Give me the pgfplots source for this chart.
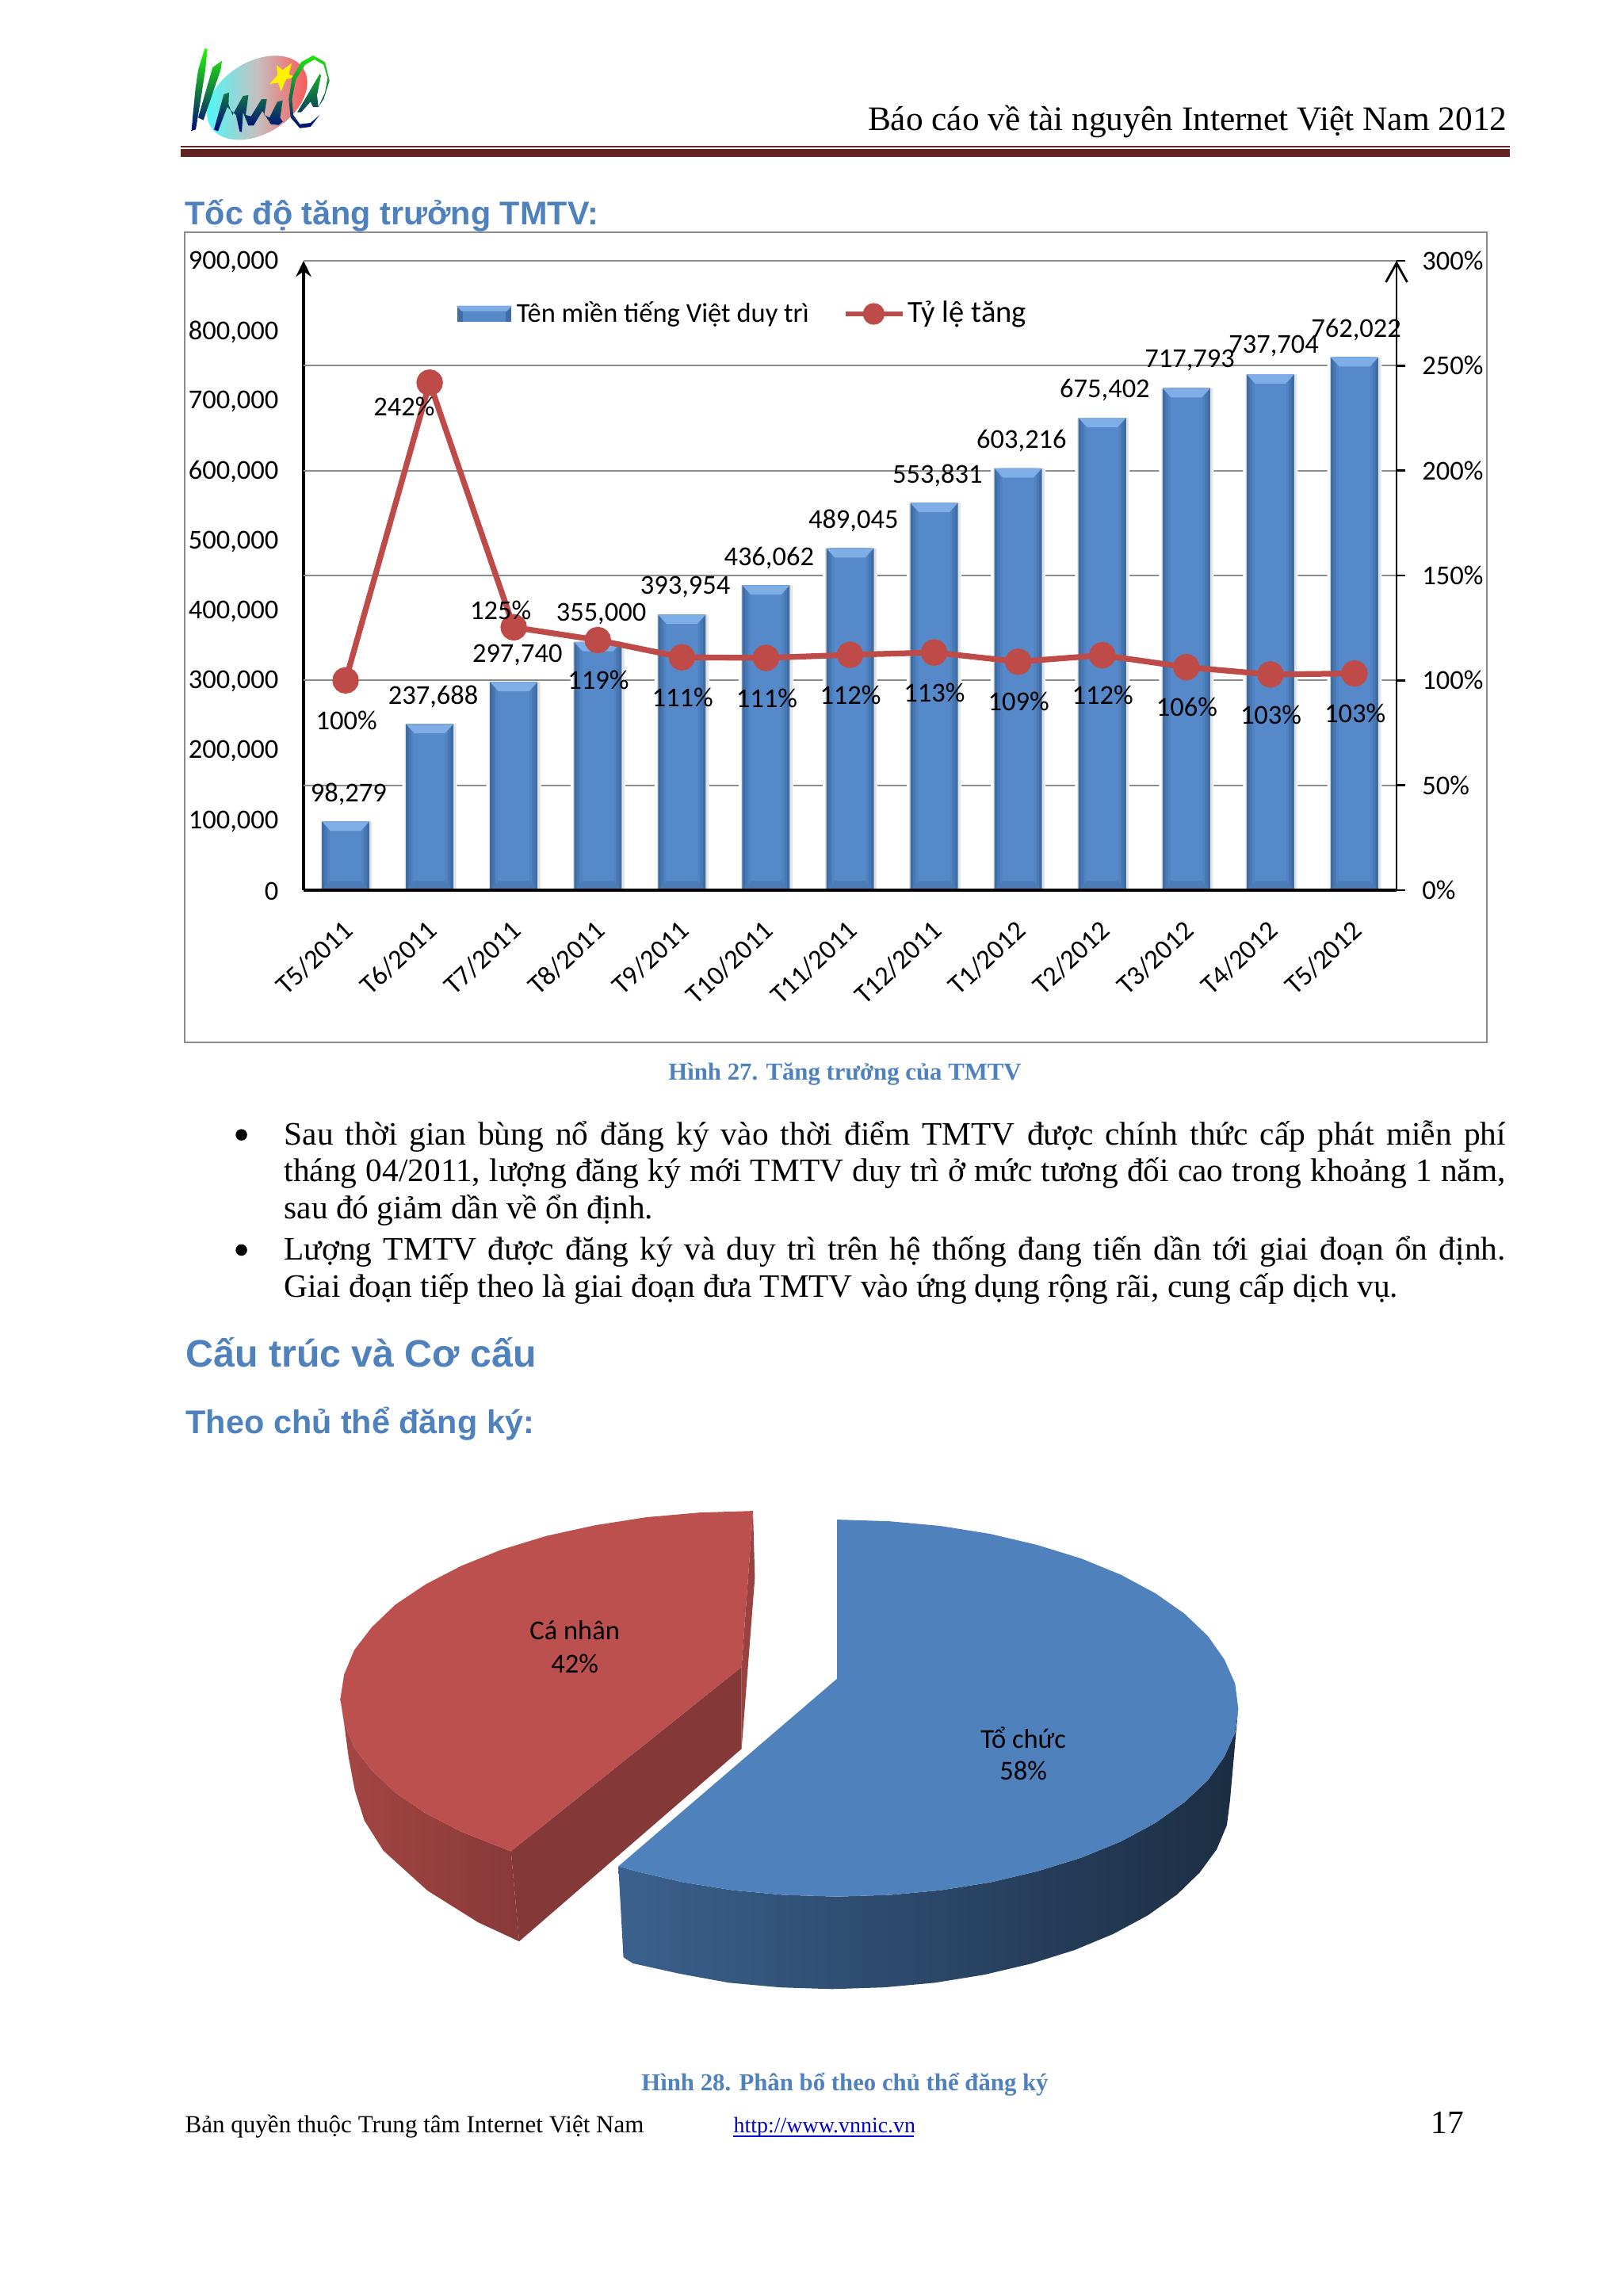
\documentclass[border=0pt]{standalone}
\usepackage{fontspec}
\setmainfont{Liberation Serif}
\newfontfamily\carlito{Carlito}
\newfontfamily\arialf{Liberation Sans}
\usepackage{pgfplots}
\pgfplotsset{compat=1.18}
\usetikzlibrary{arrows.meta}
\definecolor{headblue}{HTML}{4F81BD}
\definecolor{barmid}{HTML}{5689CA}
\definecolor{barb}{HTML}{5083C2}
\definecolor{barc}{HTML}{4878B4}
\definecolor{baredge}{HTML}{3F6DA4}
\definecolor{barcap}{HTML}{7FAEE6}
\definecolor{barbase}{HTML}{4B7CB8}
\definecolor{redline}{HTML}{BE4B48}
\definecolor{redtop}{HTML}{BC504E}
\definecolor{gridg}{HTML}{8C8C8C}
\definecolor{ruleb}{HTML}{622423}
\definecolor{shadowg}{HTML}{E4E4E4}
\pgfdeclareplotmark{barcapmark}{%
  \pgfpathmoveto{\pgfpoint{-8.7pt}{0pt}}\pgfpathlineto{\pgfpoint{8.7pt}{0pt}}%
  \pgfpathlineto{\pgfpoint{5.6pt}{-3.4pt}}\pgfpathlineto{\pgfpoint{-5.6pt}{-3.4pt}}\pgfpathclose\pgfusepathqfill}
\pgfdeclareplotmark{barbasemark}{%
  \pgfpathmoveto{\pgfpoint{-8.7pt}{0pt}}\pgfpathlineto{\pgfpoint{8.7pt}{0pt}}%
  \pgfpathlineto{\pgfpoint{5.6pt}{3.4pt}}\pgfpathlineto{\pgfpoint{-5.6pt}{3.4pt}}\pgfpathclose\pgfusepathqfill}
\newcommand\chartfont{\carlito\fontsize{10}{12}\selectfont}
\pgfplotstableread{
x v
0 98279
1 237688
2 297740
3 355000
4 393954
5 436062
6 489045
7 553831
8 603216
9 675402
10 717793
11 737704
12 762022
}\domains
\pgfplotstableread{
x r
0 100
1 241.9
2 125.3
3 119.2
4 111.0
5 110.7
6 112.2
7 113.3
8 108.9
9 112.0
10 106.3
11 102.8
12 103.3
}\rates
\begin{document}
\begin{tikzpicture}
\path[use as bounding box] (0,0) rectangle (593.92pt,-839.26pt);
\fill[white] (0,0) rectangle (593.92pt,-839.26pt);
\begin{scope}[x=0.29pt,y=-0.29pt]
  % logo
  \begin{scope}[shift={(225,45)},x=0.0967pt,y=-0.0967pt]
    \shade[rotate around={32:(298,235)},shading angle=0,left color=cyan!75!white,right color=red!70!white,middle color=gray!50!white!90!pink] (298,235) ellipse [x radius=207,y radius=136];
    \fill[yellow] (372,112)--(395,130)--(430,103)--(418,145)--(442,157)--(408,165)--(388,212)--(378,178)--(345,183)--(375,150)--cycle;
    \begin{scope}
      \clip (100,48)--(110,52)--(102,130)--(85,240)--(66,355)--(50,360)--(55,300)--(65,200)--(75,130)--cycle
            (75,310)--(130,120)--(165,95)--(160,130)--(95,320)--cycle
            (135,355)--(172,222)--(192,215)--(190,260)--(205,300)--(245,228)--(265,225)--(255,300)--(275,305)--(315,240)--(335,240)--(325,300)--(345,310)--(375,250)--(395,245)--(385,310)--(395,325)--(380,338)--(350,335)--(318,285)--(285,340)--(265,340)--(245,290)--(240,365)--(232,362)--(218,300)--(185,270)--(150,362)--cycle
            (555,100)--(510,75)--(465,100)--(430,160)--(418,240)--(425,310)--(460,350)--(500,345)--(535,300)--(500,330)--(460,335)--(435,300)--(430,240)--(445,165)--(480,110)--(515,90)--(550,110)--(565,160)--(555,215)--(530,270)--(550,240)--(572,170)--cycle
            (535,145)--(450,290)--(465,290)--(500,250)--(510,270)--(530,270)--(525,225)--(540,150)--cycle;
      \shade[top color=green!85!yellow,middle color=green!45!black,bottom color=blue!50!black] (40,40) rectangle (580,370);
    \end{scope}
  \end{scope}
  % header
  \node[anchor=base east,inner sep=0pt] at (1902,165) {\fontsize{12.57}{15}\selectfont Báo cáo về tài nguyên Internet Việt Nam 2012};
  \fill[ruleb] (228,184) rectangle (1905,186);
  \fill[ruleb] (228,188) rectangle (1905,198);
  % headings
  \node[anchor=base west,inner sep=0pt,text=headblue] at (233,284) {\arialf\bfseries\fontsize{12}{15}\selectfont Tốc độ tăng trưởng TMTV:};
  \draw[gridg,line width=0.7pt] (233,293) rectangle (1876,1315);
  \node[anchor=base,inner sep=0pt,text=headblue] at (1066,1363) {\bfseries\fontsize{8.93}{11}\selectfont Hình 27. Tăng trưởng của TMTV};
  \fill[black] (304.6,1431.7) circle[radius=2.1pt];
  \fill[black] (304.6,1577) circle[radius=2.1pt];
  \node[anchor=base west,inner sep=0pt] at (358,1445) {\fontsize{12}{14}\selectfont\makebox[446.9pt][s]{Sau thời gian bùng nổ đăng ký vào thời điểm TMTV được chính thức cấp phát miễn phí}};
  \node[anchor=base west,inner sep=0pt] at (358,1491) {\fontsize{12}{14}\selectfont\makebox[446.9pt][s]{tháng 04/2011, lượng đăng ký mới TMTV duy trì ở mức tương đối cao trong khoảng 1 năm,}};
  \node[anchor=base west,inner sep=0pt] at (358,1538) {\fontsize{12}{14}\selectfont sau đó giảm dần về ổn định.};
  \node[anchor=base west,inner sep=0pt] at (358,1590) {\fontsize{12}{14}\selectfont\makebox[446.9pt][s]{Lượng TMTV được đăng ký và duy trì trên hệ thống đang tiến dần tới giai đoạn ổn định.}};
  \node[anchor=base west,inner sep=0pt] at (358,1637) {\fontsize{11.97}{14}\selectfont Giai đoạn tiếp theo là giai đoạn đưa TMTV vào ứng dụng rộng rãi, cung cấp dịch vụ.};
  \node[anchor=base west,inner sep=0pt,text=headblue] at (234,1725) {\arialf\bfseries\fontsize{14}{17}\selectfont Cấu trúc và Cơ cấu};
  \node[anchor=base west,inner sep=0pt,text=headblue] at (234,1809) {\arialf\bfseries\fontsize{12}{15}\selectfont Theo chủ thể đăng ký:};
  % footer
  \node[anchor=base,inner sep=0pt,text=headblue] at (1066,2638) {\bfseries\fontsize{8.93}{11}\selectfont Hình 28. Phân bổ theo chủ thể đăng ký};
  \node[anchor=base west,inner sep=0pt] at (233,2691) {\fontsize{9}{11}\selectfont Bản quyền thuộc Trung tâm Internet Việt Nam};
  \node[anchor=base west,inner sep=0pt,text=blue!80!black] at (925,2691) {\fontsize{8.1}{11}\selectfont http://www.vnnic.vn};
  \fill[blue!80!black] (925,2694) rectangle (1153,2696);
  \node[anchor=base west,inner sep=0pt] at (1805,2692) {\fontsize{12}{15}\selectfont 17};
\end{scope}

% ---------- bars and grid
\begin{axis}[
  at={(111.07pt,-325.67pt)},anchor=south west,
  scale only axis,width=399.91pt,height=230.26pt,
  xmin=-0.5,xmax=12.5,ymin=0,ymax=900000,
  axis x line=bottom,axis y line=left,
  x axis line style={-,line width=0.9pt,black},
  y axis line style={-{Stealth[width=5.6pt,length=5.8pt]},line width=0.9pt,black},
  xtick={0,...,12},
  xticklabels={T5/2011,T6/2011,T7/2011,T8/2011,T9/2011,T10/2011,T11/2011,T12/2011,T1/2012,T2/2012,T3/2012,T4/2012,T5/2012},
  ytick={0,100000,...,900000},
  scaled y ticks=false,
  major tick length=0pt,
  extra y ticks={150000,300000,450000,600000,750000,900000},
  extra y tick labels={},
  extra y tick style={grid=major,major grid style={gridg,line width=0.6pt},major tick length=0pt},
  /pgf/number format/fixed,
  /pgf/number format/1000 sep={,},
  /pgf/number format/assume math mode=true,
  tick label style={font=\chartfont},
  yticklabel style={inner sep=0pt,xshift=-9pt,yshift=-0.4pt},
  xticklabel style={rotate=43,anchor=east,inner sep=0pt,xshift=-8.06pt,yshift=-10.38pt},
  clip=false,
]
\addplot[ybar,bar width=20pt,bar shift=0pt,draw=none,fill=white,forget plot] table[x=x,y=v] {\domains};
\addplot[ybar,bar width=18.8pt,bar shift=0.3pt,draw=none,fill=shadowg,forget plot] table[x=x,y=v] {\domains};
\addplot[ybar,bar width=17.4pt,bar shift=0pt,draw=none,fill=baredge,forget plot] table[x=x,y=v] {\domains};
\addplot[ybar,bar width=15.4pt,bar shift=0pt,draw=none,fill=barc,forget plot] table[x=x,y=v] {\domains};
\addplot[ybar,bar width=13.4pt,bar shift=0pt,draw=none,fill=barb,forget plot] table[x=x,y=v] {\domains};
\addplot[ybar,bar width=11.6pt,bar shift=0pt,draw=none,fill=barmid,forget plot] table[x=x,y=v] {\domains};
\addplot[only marks,mark=barcapmark,color=barcap,forget plot] table[x=x,y=v] {\domains};
\addplot[only marks,mark=barbasemark,color=barbase,forget plot] coordinates {(0,0)(1,0)(2,0)(3,0)(4,0)(5,0)(6,0)(7,0)(8,0)(9,0)(10,0)(11,0)(12,0)};
\end{axis}

% ---------- rate line, right axis and legend
\begin{axis}[
  at={(111.07pt,-325.67pt)},anchor=south west,
  scale only axis,width=399.91pt,height=230.26pt,
  xmin=-0.5,xmax=12.5,ymin=0,ymax=300,
  axis x line=bottom,axis y line=right,
  x axis line style={-,line width=0.9pt,black},
  xtick=\empty,
  y axis line style={-{Straight Barb[width=7.8pt,length=7pt]},line width=0.8pt,black},
  ytick={0,50,...,300},
  /pgf/number format/assume math mode=true,
  yticklabel={\pgfmathprintnumber{\tick}\%},
  tick align=outside,
  major tick length=3.2pt,
  tick style={black,line width=0.7pt},
  tick label style={font=\chartfont},
  yticklabel style={inner sep=0pt,xshift=6pt},
  legend style={draw=none,fill=none,at={(0.14,0.9156)},anchor=west,font=\chartfont,inner sep=0pt,
    /tikz/every even column/.append style={column sep=10.3pt}},
  legend cell align=left,
  legend columns=2,
  clip=false,
]
\addlegendimage{legend image code/.code={
  \fill[baredge] (0pt,-2.8pt) rectangle (19.4pt,2.8pt);
  \fill[barmid] (2pt,-2.8pt) rectangle (17.4pt,1.6pt);
  \fill[barcap] (0pt,2.8pt)--(19.4pt,2.8pt)--(17.9pt,1.2pt)--(1.5pt,1.2pt)--cycle;}}
\addlegendentry{Tên miền tiếng Việt duy trì}
\addplot[redline,line width=2.1pt,mark=*,mark size=3.8pt,mark options={fill=redline,draw=none,solid},
  legend image code/.code={\draw[redline,line width=2pt] (0pt,0pt)--(20.9pt,0pt);\fill[redline] (10.4pt,0pt) circle[radius=2.9pt];}]
  table[x=x,y=r] {\rates};
\addlegendentry{\hspace*{-1pt}\fontsize{11.2}{13}\selectfont Tỷ lệ tăng}
\end{axis}

% ---------- value labels, at their read positions
\begin{axis}[
  at={(111.07pt,-325.67pt)},anchor=south west,
  scale only axis,width=399.91pt,height=230.26pt,
  xmin=-0.5,xmax=12.5,ymin=0,ymax=900000,
  hide axis,clip=false,
  every node near coord/.style={anchor=center,inner sep=0pt,font=\chartfont,text=black},
]
\addplot[draw=none,mark=none,point meta=explicit symbolic,nodes near coords] table[x=x,y=y,meta=l] {
x y l
0.036 137356 98,279
1.042 276980 237,688
2.043 336170 297,740
3.04 394600 355,000
4.04 433300 393,954
5.036 475040 436,062
6.04 528160 489,045
7.04 592660 553,831
8.04 642750 603,216
9.03 714840 675,402
10.04 757330 717,793
11.04 777820 737,704
12.02 801350 762,022
};
\addplot[draw=none,mark=none,point meta=explicit symbolic,nodes near coords={\pgfplotspointmeta\%}] table[x=x,y=y,meta=l] {
x y l
0.01 242830 100
0.696 691300 242
1.844 400670 125
3.007 300500 119
4.008 275460 111
5.009 273950 111
6.005 279260 112
7.004 282290 113
8.005 269390 109
9.005 279260 112
10.005 261800 106
11.006 251180 103
12.007 252700 103
};
\end{axis}

% ---------- pie, in the pixel units of its own frame
\begin{axis}[
  at={(110.2pt,-736.6pt)},anchor=south west,
  scale only axis,width=362.5pt,height=191.4pt,
  xmin=0,xmax=1568,ymin=0,ymax=1568,y dir=reverse,
  hide axis,clip=false,
]
% red side
\addplot[draw=none,left color=black!13!redtop,right color=black!28!redtop] coordinates {
(62,625)(68,698)(84,771)(112,840)(149,906)(197,968)(253,1023)(332,1082)(345,1352)(280,1295)(200,1200)(130,1080)(100,990)(85,900)(75,800)(68,700)} -- cycle;
\addplot[draw=none,fill=black!30!redtop] coordinates {(697,530)(332,1082)(345,1352)(697,775)} -- cycle;
\addplot[draw=none,fill=black!18!redtop] coordinates {(715,62)(697,530)(697,775)(718,262)} -- cycle;
% red top
\addplot[draw=none,fill=redtop] coordinates {(697,530)(715,62)(630,67)(546,81)(465,105)(388,137)(317,178)(253,227)(197,282)(149,343)(112,410)(84,479)(68,552)(62,625)(68,698)(84,771)(112,840)(149,906)(197,968)(253,1023)(332,1082)} -- cycle;
% blue side
\addplot[draw=none,left color=black!25!headblue,middle color=black!45!headblue,right color=black!65!headblue] coordinates {
(502,1127)(530,1142)(605,1175)(684,1199)(765,1213)(848,1218)(931,1213)(1012,1199)(1091,1175)(1165,1142)(1235,1101)(1297,1053)(1352,997)(1398,935)(1435,869)(1461,799)(1478,727)(1483,653)
(1470,930)(1465,1004)(1449,1076)(1422,1146)(1386,1212)(1340,1274)(1285,1330)(1224,1378)(1155,1419)(1081,1452)(1003,1476)(922,1490)(840,1495)(758,1490)(677,1476)(599,1449)(525,1418)(510,1400)} -- cycle;
% blue top
\addplot[draw=none,fill=headblue] coordinates {
(848,565)(848,88)(931,93)(1012,107)(1091,131)(1165,164)(1235,205)(1297,253)(1352,309)(1398,370)(1435,437)(1461,507)(1478,579)(1483,653)
(1478,727)(1461,799)(1435,869)(1398,935)(1352,997)(1297,1053)(1235,1101)(1165,1142)(1091,1175)(1012,1199)(931,1213)(848,1218)
(765,1213)(684,1199)(605,1175)(530,1142)(502,1127)} -- cycle;
\node[font=\chartfont,inner sep=0pt] at (axis cs:433,420) {Cá nhân};
\node[font=\chartfont,inner sep=0pt] at (axis cs:433,520) {42\%};
\node[font=\chartfont,inner sep=0pt] at (axis cs:1143,742) {Tổ chức};
\node[font=\chartfont,inner sep=0pt] at (axis cs:1143,840) {58\%};
\end{axis}
\end{tikzpicture}
\end{document}
